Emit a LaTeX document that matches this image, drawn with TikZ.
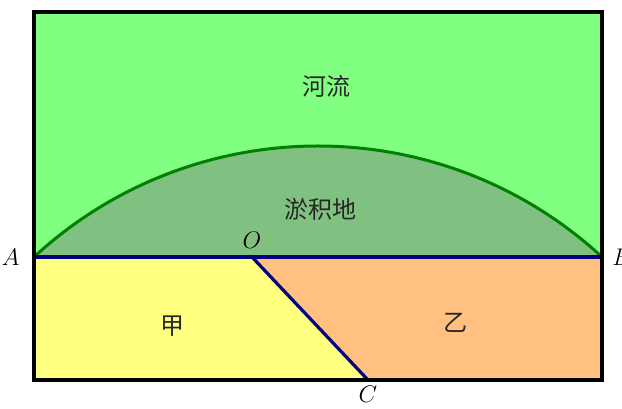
\documentclass[tikz,border=0pt]{standalone}
\usepackage{fontspec}
\newfontfamily\cjk{Noto Sans CJK SC}
\usetikzlibrary{positioning}

\definecolor{river}{RGB}{128,255,128}
\definecolor{silt}{RGB}{128,192,128}
\definecolor{plotA}{RGB}{255,255,128}
\definecolor{plotB}{RGB}{255,192,128}
\definecolor{bankline}{RGB}{0,128,0}
\definecolor{cutline}{RGB}{0,0,128}

\begin{document}
\begin{tikzpicture}[
    x=0.5pt, y=0.5pt,
    border/.style={draw=black, line width=1.6pt},
    divide/.style={draw=cutline, line width=1.6pt},
    bank/.style={draw=bankline, line width=1.5pt},
    ptlabel/.style={font=\large, inner sep=1pt},
    region/.style={font=\cjk\large, text=black!85},
]
\useasboundingbox (0,0) rectangle (622,408);

% Corners and points
\coordinate (tl) at (34,396);
\coordinate (br) at (602,28);
\coordinate (bl) at (34,28);
\coordinate (A) at (34,151);
\coordinate (B) at (602,151);
\coordinate (O) at (252,151);
\coordinate (C) at (368,28);

% Regions
\fill[river] (tl) rectangle (B);
\fill[silt] (A) arc[start angle=132.7, end angle=47.3, radius=209.4pt] -- cycle;
\fill[plotA] (A) -- (O) -- (C) -- (bl) -- cycle;
\fill[plotB] (O) -- (B) -- (br) -- (C) -- cycle;

% Lines
\draw[bank] (A) arc[start angle=132.7, end angle=47.3, radius=209.4pt];
\draw[divide] (A) -- (B);
\draw[divide] (O) -- (C);
\draw[border] (tl) rectangle (br);

% Labels
\node[ptlabel, left=6pt of A] (lA) {$A$};
\node[ptlabel, right=4pt of B] (lB) {$B$};
\node[ptlabel, above=3pt of O] (lO) {$O$};
\node[ptlabel, below=2pt of C] (lC) {$C$};

\node[region] (he) at (326,322) {河流};
\node[region] (yu) at (320,199) {淤积地};
\node[region] (jia) at (172,82) {甲};
\node[region] (yi) at (455,85) {乙};

\end{tikzpicture}
\end{document}
